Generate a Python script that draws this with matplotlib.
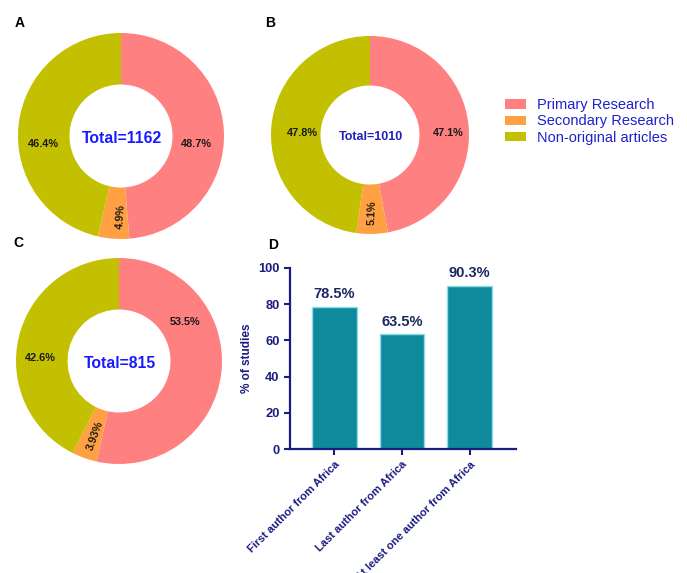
import matplotlib.pyplot as plt
from matplotlib.patches import Patch

plt.rcParams["font.family"] = ["Liberation Sans", "DejaVu Sans"]

# data
categorias = ["Primary Research", "Secondary Research", "Non-original articles"]
valores_a = [48.7, 4.9, 46.4]
valores_b = [47.1, 5.1, 47.8]
valores_c = [53.5, 3.93, 42.6]
totales = [1162, 1010, 815]

barras_labels = ["First author from Africa", "Last author from Africa",
                 "At least one author from Africa"]
barras_valores = [78.5, 63.5, 90.3]

colores = ["#ff8080", "#ffa143", "#c2c000"]
navy = "#1c1c80"

W, H = 687, 573
fig = plt.figure(figsize=(W / 100, H / 100), dpi=100)


def donut(cx, cy, r, valores, total, total_size, total_color, pos_labels, rot_sec):
    ax = fig.add_axes([(cx - r) / W, (H - cy - r) / H, 2 * r / W, 2 * r / H])
    ax.pie(valores, colors=colores, startangle=90, counterclock=False,
           radius=1, wedgeprops=dict(width=0.5, linewidth=0))
    ax.set_xlim(-1, 1)
    ax.set_ylim(-1, 1)
    ax.set_aspect("equal")
    ax.axis("off")
    for i, v in enumerate(valores):
        x, y = pos_labels[i]
        ax.text(x, y, f"{v}%", ha="center", va="center", fontsize=7.8,
                fontweight="bold", rotation=rot_sec if i == 1 else 0,
                color="#1a1a1a")
    ax.text(0.01, -0.02, f"Total={total}", ha="center", va="center",
            fontsize=total_size, fontweight="bold", color=total_color)
    return ax


donut(121, 136, 103, valores_a, totales[0], 11.3, "#1a1aff",
      [(0.73, -0.08), (0.0, -0.78), (-0.75, -0.08)], 86)
donut(370, 135, 99, valores_b, totales[1], 9, "#2222bb",
      [(0.79, 0.02), (0.02, -0.78), (-0.68, 0.02)], 88)
donut(119, 361, 103, valores_c, totales[2], 11.3, "#1a1aff",
      [(0.64, 0.38), (-0.23, -0.72), (-0.76, 0.03)], 70)

# legend
handles = [Patch(facecolor=c, edgecolor="none") for c in colores]
fig.legend(handles, categorias, loc="upper left", bbox_to_anchor=(492 / W, 1 - 85 / H),
           frameon=False, fontsize=10.5, handlelength=1.4, handleheight=0.6,
           handletextpad=0.8, labelspacing=0.15, labelcolor="#2020cc")

# bar chart D
ax = fig.add_axes([290 / W, (H - 449) / H, 226 / W, 181 / H])
pos = list(range(len(barras_valores)))
bars = ax.bar(pos, barras_valores, width=0.66, color="#0f8a9d",
              edgecolor="#8fdde6", linewidth=1)
for b, v in zip(bars, barras_valores):
    ax.annotate(f"{v}%", (b.get_x() + b.get_width() / 2, v), xytext=(0, 4),
                textcoords="offset points", ha="center", va="bottom",
                fontsize=10.5, fontweight="bold", color="#1c2660")
ax.set_xlim(-0.654, 2.684)
ax.set_ylim(0, 100)
ax.set_yticks([0, 20, 40, 60, 80, 100])
ax.set_xticks(pos)
ax.set_xticklabels(barras_labels, rotation=45, ha="right", rotation_mode="anchor",
                   fontsize=8, fontweight="bold", color=navy)
for t in ax.get_yticklabels():
    t.set_fontweight("bold")
ax.tick_params(axis="y", labelsize=9.3, colors=navy, width=1.5, length=4)
ax.tick_params(axis="x", colors=navy, width=1.5, length=4)
ax.set_ylabel("% of studies", fontsize=8.5, fontweight="bold", color=navy, labelpad=4)
for s in ["top", "right"]:
    ax.spines[s].set_visible(False)
for s in ["left", "bottom"]:
    ax.spines[s].set_color(navy)
    ax.spines[s].set_linewidth(1.6)

# panel letters
for letra, x, y in [("A", 20, 23), ("B", 270, 23), ("C", 18, 243), ("D", 273, 245)]:
    fig.text(x / W, 1 - y / H, letra, ha="center", va="center",
             fontsize=10, fontweight="bold")

fig.savefig("out.png", dpi=100)
